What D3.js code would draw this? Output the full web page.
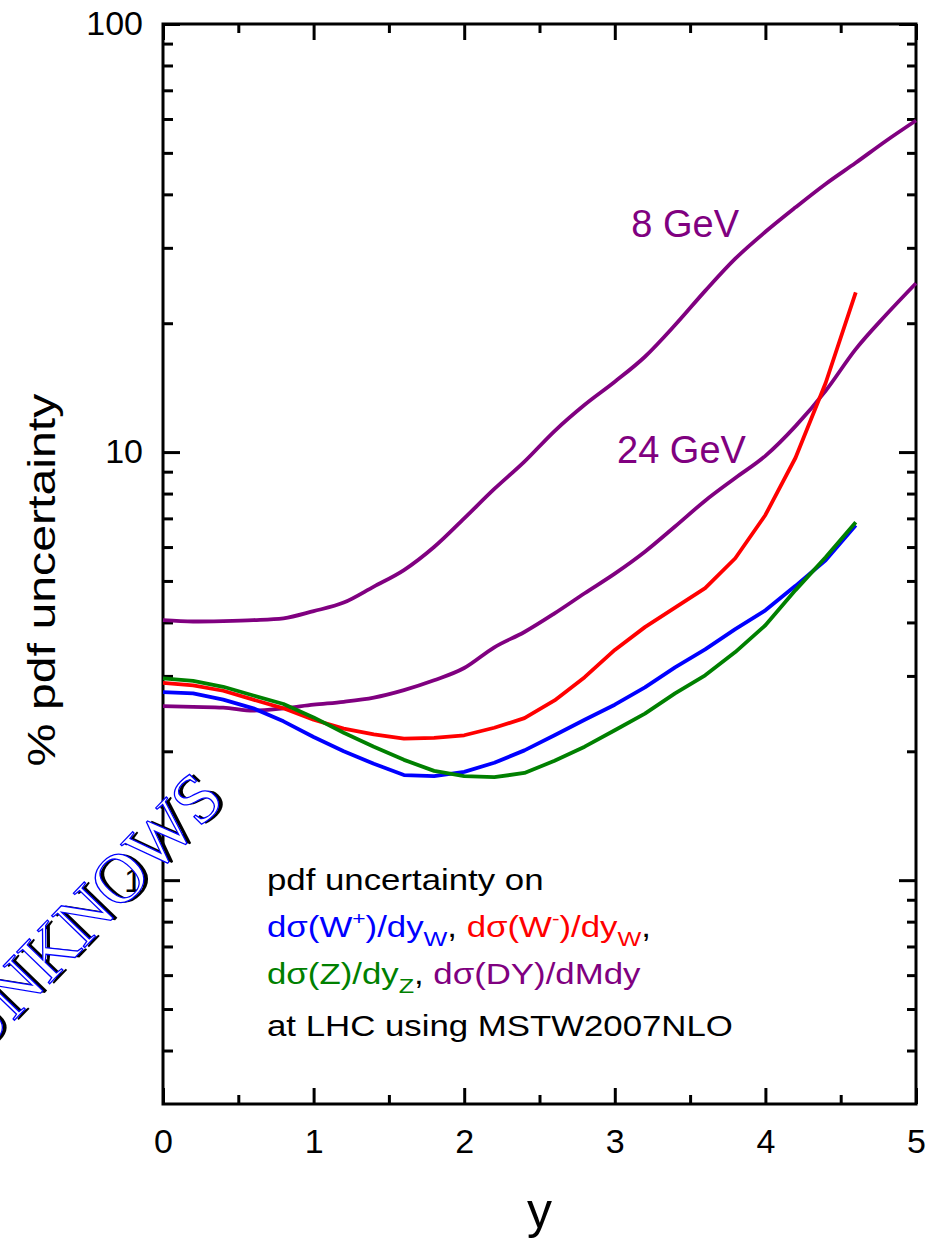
<!DOCTYPE html>
<html>
<head>
<meta charset="utf-8">
<script src="https://cdn.jsdelivr.net/npm/d3@7"></script>
<style>
  body { margin: 0; background: #fff; }
  svg text { font-family: "Liberation Sans", Arial, Helvetica, sans-serif; }
</style>
</head>
<body>
<script>
// Chart Params
var svgWidth = 943;
var svgHeight = 1244;
var margin = { top: 24, right: 27, bottom: 140, left: 163 };
var width = svgWidth - margin.left - margin.right;
var height = svgHeight - margin.top - margin.bottom;

// rapidity points
var rapW = [0, 0.2, 0.4, 0.6, 0.8, 1.0, 1.2, 1.4, 1.6, 1.8, 2.0, 2.2, 2.4, 2.6, 2.8, 3.0, 3.2, 3.4, 3.6, 3.8, 4.0, 4.2, 4.4, 4.6];
var rapDY = [0, 0.2, 0.4, 0.6, 0.8, 1.0, 1.2, 1.4, 1.6, 1.8, 2.0, 2.2, 2.4, 2.6, 2.8, 3.0, 3.2, 3.4, 3.6, 3.8, 4.0, 4.2, 4.4, 4.6, 4.8, 5.0];

// % pdf uncertainty
var wPlus  = [2.75, 2.73, 2.64, 2.52, 2.35, 2.16, 2.00, 1.87, 1.76, 1.75, 1.79, 1.88, 2.01, 2.18, 2.37, 2.57, 2.82, 3.14, 3.46, 3.86, 4.27, 4.87, 5.59, 6.75];
var wMinus = [2.89, 2.85, 2.77, 2.64, 2.52, 2.37, 2.26, 2.19, 2.14, 2.15, 2.18, 2.27, 2.39, 2.63, 2.98, 3.45, 3.90, 4.33, 4.81, 5.65, 7.13, 9.7, 14.5, 23.6];
var zBoson = [2.96, 2.92, 2.83, 2.70, 2.58, 2.40, 2.21, 2.05, 1.91, 1.80, 1.75, 1.74, 1.78, 1.90, 2.05, 2.24, 2.45, 2.73, 3.01, 3.41, 3.94, 4.76, 5.68, 6.86];
var dy8GeV  = [4.05, 4.02, 4.03, 4.05, 4.09, 4.25, 4.45, 4.85, 5.30, 6.0, 7.0, 8.2, 9.5, 11.2, 12.9, 14.6, 16.7, 19.8, 23.8, 28.3, 32.7, 37.3, 42.3, 47.4, 53.3, 59.5];
var dy24GeV = [2.55, 2.54, 2.53, 2.49, 2.52, 2.57, 2.61, 2.67, 2.78, 2.93, 3.13, 3.5, 3.80, 4.2, 4.68, 5.2, 5.85, 6.7, 7.7, 8.7, 9.8, 11.5, 13.9, 17.4, 20.9, 24.8];

// ticks
var xMajor = [0, 1, 2, 3, 4, 5];
var xMinor = [0.5, 1.5, 2.5, 3.5, 4.5];
var yMajor = [1, 10, 100];
var yMinor = [0.4, 0.5, 0.6, 0.7, 0.8, 0.9, 2, 3, 4, 5, 6, 7, 8, 9, 20, 30, 40, 50, 60, 70, 80, 90];

var svg = d3.select("body")
    .append("svg")
    .attr("width", svgWidth)
    .attr("height", svgHeight);

var chartGroup = svg.append("g")
    .attr("transform", `translate(${margin.left}, ${margin.top})`);

// scales
var xScale = d3.scaleLinear().domain([0, 5]).range([0, width]);
var yScale = d3.scaleLog().domain([0.3, 100]).range([height, 0]);

// axes, ticks pointing inward
function styleAxis(g) {
    g.select(".domain").remove();
    g.selectAll("line").attr("stroke", "#000").attr("stroke-width", 3);
    g.selectAll("text").attr("font-size", 34).attr("fill", "#000");
}

chartGroup.append("g")
    .attr("transform", `translate(0, ${height})`)
    .call(d3.axisBottom(xScale).tickValues(xMajor).tickSize(-16).tickPadding(25).tickFormat(d3.format("d")))
    .call(styleAxis);
chartGroup.append("g")
    .attr("transform", `translate(0, ${height})`)
    .call(d3.axisBottom(xScale).tickValues(xMinor).tickSize(-9).tickFormat(""))
    .call(styleAxis);
chartGroup.append("g")
    .call(d3.axisTop(xScale).tickValues(xMajor).tickSize(-16).tickFormat(""))
    .call(styleAxis);
chartGroup.append("g")
    .call(d3.axisTop(xScale).tickValues(xMinor).tickSize(-9).tickFormat(""))
    .call(styleAxis);

chartGroup.append("g")
    .call(d3.axisLeft(yScale).tickValues(yMajor).tickSize(-17).tickPadding(20).tickFormat(d3.format("d")))
    .call(styleAxis);
chartGroup.append("g")
    .call(d3.axisLeft(yScale).tickValues(yMinor).tickSize(-10).tickFormat(""))
    .call(styleAxis);
chartGroup.append("g")
    .attr("transform", `translate(${width}, 0)`)
    .call(d3.axisRight(yScale).tickValues(yMajor).tickSize(-17).tickFormat(""))
    .call(styleAxis);
chartGroup.append("g")
    .attr("transform", `translate(${width}, 0)`)
    .call(d3.axisRight(yScale).tickValues(yMinor).tickSize(-9).tickFormat(""))
    .call(styleAxis);

// frame
chartGroup.append("rect")
    .attr("width", width)
    .attr("height", height)
    .attr("fill", "none")
    .attr("stroke", "#000")
    .attr("stroke-width", 3);

// curves: W/Z straight segments, DY smooth
var line = d3.line()
    .x(d => xScale(d[0]))
    .y(d => yScale(d[1]));
var smoothLine = d3.line()
    .curve(d3.curveMonotoneX)
    .x(d => xScale(d[0]))
    .y(d => yScale(d[1]));

var series = [
    { rap: rapDY, vals: dy24GeV, color: "#800080", gen: smoothLine },
    { rap: rapDY, vals: dy8GeV, color: "#800080", gen: smoothLine },
    { rap: rapW, vals: wMinus, color: "#ff0000", gen: line },
    { rap: rapW, vals: wPlus, color: "#0000ff", gen: line },
    { rap: rapW, vals: zBoson, color: "#008000", gen: line }
];

series.forEach(function (s) {
    chartGroup.append("path")
        .datum(d3.zip(s.rap, s.vals))
        .attr("fill", "none")
        .attr("stroke", s.color)
        .attr("stroke-width", 3.8)
        .attr("stroke-linejoin", "round")
        .attr("d", s.gen);
});

// curve labels
chartGroup.append("text")
    .attr("x", xScale(3.11))
    .attr("y", yScale(31.8))
    .attr("font-size", 38)
    .attr("fill", "#800080")
    .text("8 GeV");

chartGroup.append("text")
    .attr("x", xScale(3.015))
    .attr("y", yScale(9.45))
    .attr("font-size", 38)
    .attr("fill", "#800080")
    .text("24 GeV");

// legend text
var legend = svg.append("g")
    .attr("transform", "translate(267, 0) scale(1.2, 1)");

legend.append("text").attr("x", 0).attr("y", 890).attr("font-size", 29)
    .text("pdf uncertainty on");

var l2 = legend.append("text").attr("x", 0).attr("y", 937).attr("font-size", 29);
l2.append("tspan").attr("fill", "#0000ff").text("dσ(W");
l2.append("tspan").attr("fill", "#0000ff").attr("font-size", 19).attr("dy", -12).text("+");
l2.append("tspan").attr("fill", "#0000ff").attr("dy", 12).text(")/dy");
l2.append("tspan").attr("fill", "#0000ff").attr("font-size", 21).attr("dy", 9).text("W");
l2.append("tspan").attr("fill", "#000").attr("dy", -9).text(", ");
l2.append("tspan").attr("fill", "#ff0000").text("dσ(W");
l2.append("tspan").attr("fill", "#ff0000").attr("font-size", 19).attr("dy", -12).text("-");
l2.append("tspan").attr("fill", "#ff0000").attr("dy", 12).text(")/dy");
l2.append("tspan").attr("fill", "#ff0000").attr("font-size", 21).attr("dy", 9).text("W");
l2.append("tspan").attr("fill", "#000").attr("dy", -9).text(",");

var l3 = legend.append("text").attr("x", 0).attr("y", 984).attr("font-size", 29);
l3.append("tspan").attr("fill", "#008000").text("dσ(Z)/dy");
l3.append("tspan").attr("fill", "#008000").attr("font-size", 21).attr("dy", 9).text("Z");
l3.append("tspan").attr("fill", "#000").attr("dy", -9).text(", ");
l3.append("tspan").attr("fill", "#800080").text("dσ(DY)/dMdy");

legend.append("text").attr("x", 0).attr("y", 1036).attr("font-size", 29)
    .text("at LHC using MSTW2007NLO");

// axis titles
svg.append("text")
    .attr("transform", `translate(${margin.left + width / 2}, 1228)`)
    .attr("text-anchor", "middle")
    .attr("font-size", 50)
    .text("y");

svg.append("text")
    .attr("transform", "translate(55, 580) rotate(-90) scale(1.27, 1)")
    .attr("text-anchor", "middle")
    .attr("font-size", 38)
    .text("% pdf uncertainty");

// watermark
var mark = svg.append("g")
    .attr("transform", "translate(-22, 1058) rotate(-46)");
mark.append("text")
    .attr("x", 3).attr("y", 3)
    .style("font-family", "'Liberation Serif', 'Times New Roman', serif")
    .attr("font-size", 70)
    .attr("fill", "#000")
    .text("UNKNOWS");
mark.append("text")
    .style("font-family", "'Liberation Serif', 'Times New Roman', serif")
    .attr("font-size", 70)
    .attr("fill", "#fff")
    .attr("stroke", "#0000ff")
    .attr("stroke-width", 1.3)
    .text("UNKNOWS");
</script>
</body>
</html>
